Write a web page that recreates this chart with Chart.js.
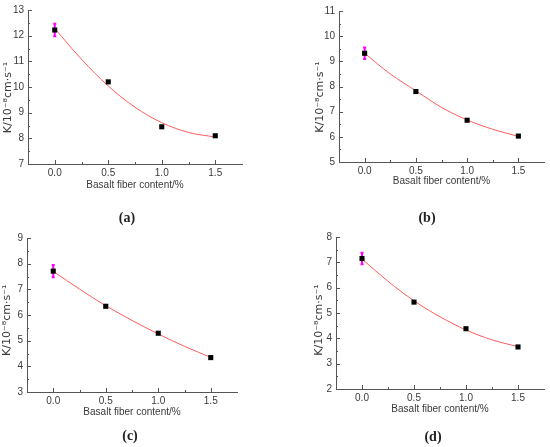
<!DOCTYPE html>
<html>
<head>
<meta charset="utf-8">
<script src="https://cdn.jsdelivr.net/npm/chart.js@4.4.0/dist/chart.umd.min.js"></script>
<style>
    body { margin: 0; background: #fff; width: 550px; height: 447px; position: relative; overflow: hidden; }
    .panel { position: absolute; width: 275px; height: 225px; }
    .cap { position: absolute; font-family: 'Liberation Serif', serif; font-weight: bold; font-size: 14px; color: #222; transform: translate(-50%, -50%); }
</style>
</head>
<body>
<div class="panel" style="left:0;top:0"><canvas id="chart-a" width="275" height="225"></canvas></div>
<div class="panel" style="left:275px;top:0"><canvas id="chart-b" width="275" height="225"></canvas></div>
<div class="panel" style="left:0;top:225px"><canvas id="chart-c" width="275" height="225"></canvas></div>
<div class="panel" style="left:275px;top:225px"><canvas id="chart-d" width="275" height="225"></canvas></div>
<div class="cap" style="left:127px;top:218px">(a)</div>
<div class="cap" style="left:427px;top:218px">(b)</div>
<div class="cap" style="left:130px;top:436px">(c)</div>
<div class="cap" style="left:433px;top:437px">(d)</div>
<script>
// Measured data (basalt fiber content in %)
const fiberContent = [0, 0.5, 1.0, 1.5];
const xTicks = [0, 0.5, 1.0, 1.5];
const fitX = [0, 0.25, 0.5, 0.75, 1.0, 1.25, 1.5];

// (a)
const kA = [12.22, 10.2, 8.45, 8.1];
const errA = [0.28, 0.04, 0.04, 0.04];
const fitA = [12.28, 11.08, 10.04, 9.21, 8.61, 8.23, 8.05];
const yTicksA = [7, 8, 9, 10, 11, 12, 13];
// (b)
const kB = [9.32, 7.8, 6.66, 6.03];
const errB = [0.27, 0.04, 0.04, 0.04];
const fitB = [9.32, 8.5, 7.83, 7.17, 6.67, 6.3, 6.02];
const yTicksB = [5, 6, 7, 8, 9, 10, 11];
// (c)
const kC = [7.71, 6.34, 5.29, 4.34];
const errC = [0.28, 0.04, 0.04, 0.04];
const fitC = [7.70, 7.01, 6.36, 5.79, 5.26, 4.78, 4.35];
const yTicksC = [3, 4, 5, 6, 7, 8, 9];
// (d)
const kD = [7.15, 5.43, 4.38, 3.66];
const errD = [0.27, 0.04, 0.04, 0.04];
const fitD = [7.13, 6.25, 5.48, 4.85, 4.33, 3.94, 3.67];
const yTicksD = [2, 3, 4, 5, 6, 7, 8];

const xTitle = 'Basalt fiber content/%';
const yTitle = 'K/10\u207B\u2078cm\u00B7s\u207B\u00B9';

const axisColor = '#555';
const textColor = '#3a3a3a';

// Ticks on these plots point inside the frame, so draw them by hand
const inwardTicks = {
    id: 'inwardTicks',
    afterDatasetsDraw(chart) {
        const { ctx, chartArea: area, scales: { x, y } } = chart;
        ctx.save();
        ctx.strokeStyle = axisColor;
        ctx.lineWidth = 1;
        ctx.beginPath();
        const xs = x.ticks.map(t => t.value);
        xs.forEach((v, i) => {
            const px = Math.round(x.getPixelForValue(v)) + 0.5;
            ctx.moveTo(px, area.bottom);
            ctx.lineTo(px, area.bottom - 4);
            if (i < xs.length - 1) {
                const mx = Math.round(x.getPixelForValue((v + xs[i + 1]) / 2)) + 0.5;
                ctx.moveTo(mx, area.bottom);
                ctx.lineTo(mx, area.bottom - 2);
            }
        });
        const ys = y.ticks.map(t => t.value);
        ys.forEach((v, i) => {
            const py = Math.round(y.getPixelForValue(v)) + 0.5;
            ctx.moveTo(area.left, py);
            ctx.lineTo(area.left + 4, py);
            if (i < ys.length - 1) {
                const my = Math.round(y.getPixelForValue((v + ys[i + 1]) / 2)) + 0.5;
                ctx.moveTo(area.left, my);
                ctx.lineTo(area.left + 2, my);
            }
        });
        ctx.stroke();
        ctx.restore();
    }
};

// Magenta error bars, drawn under the square markers
const errorBars = {
    id: 'errorBars',
    beforeDatasetsDraw(chart, args, opts) {
        const { ctx, scales: { x, y } } = chart;
        ctx.save();
        ctx.strokeStyle = '#ff00ff';
        ctx.lineWidth = 2;
        opts.x.forEach((xv, i) => {
            const px = x.getPixelForValue(xv);
            const top = y.getPixelForValue(opts.y[i] + opts.err[i]);
            const bot = y.getPixelForValue(opts.y[i] - opts.err[i]);
            ctx.beginPath();
            ctx.moveTo(px, top);
            ctx.lineTo(px, bot);
            ctx.moveTo(px - 1.5, top + 1);
            ctx.lineTo(px + 1.5, top + 1);
            ctx.moveTo(px - 1.5, bot - 1);
            ctx.lineTo(px + 1.5, bot - 1);
            ctx.stroke();
        });
        ctx.restore();
    }
};

function makePanel(canvasId, panel) {
    const lh = 11 * 1.2;
    const xAxisH = panel.xTitleOff + 6;
    new Chart(document.getElementById(canvasId), {
        type: 'scatter',
        data: {
            datasets: [
                {
                    data: fitX.map((x, i) => ({ x: x, y: panel.fit[i] })),
                    showLine: true,
                    borderColor: '#ff5c5c',
                    borderWidth: 1,
                    pointRadius: 0,
                    cubicInterpolationMode: 'monotone',
                    order: 2
                },
                {
                    data: fiberContent.map((x, i) => ({ x: x, y: panel.k[i] })),
                    pointStyle: 'rect',
                    pointRadius: 3.6,
                    backgroundColor: '#000',
                    borderColor: '#000',
                    borderWidth: 0,
                    order: 1
                }
            ]
        },
        options: {
            responsive: false,
            animation: false,
            events: [],
            layout: {
                padding: {
                    left: panel.yTitleX - lh / 2,
                    top: panel.area.top,
                    right: 275 - panel.area.right,
                    bottom: 225 - panel.area.bottom - xAxisH
                }
            },
            plugins: {
                legend: { display: false },
                tooltip: { enabled: false },
                errorBars: { x: fiberContent, y: panel.k, err: panel.err }
            },
            scales: {
                x: {
                    type: 'linear',
                    min: -0.25,
                    max: 1.75,
                    grid: { display: false, drawTicks: false },
                    border: { color: axisColor, width: 1 },
                    afterBuildTicks: s => { s.ticks = xTicks.map(v => ({ value: v })); },
                    afterFit: s => { s.height = xAxisH; },
                    ticks: {
                        padding: 3,
                        color: textColor,
                        font: { family: 'Liberation Sans', size: 10 },
                        callback: v => v.toFixed(1)
                    },
                    title: {
                        display: true,
                        text: xTitle,
                        color: textColor,
                        padding: 0,
                        font: { family: 'Liberation Sans', size: 10 }
                    }
                },
                y: {
                    min: panel.yTicks[0],
                    max: panel.yTicks[panel.yTicks.length - 1],
                    grid: { display: false, drawTicks: false },
                    border: { color: axisColor, width: 1 },
                    afterBuildTicks: s => { s.ticks = panel.yTicks.map(v => ({ value: v })); },
                    afterFit: s => { s.width = panel.area.left - (panel.yTitleX - lh / 2); },
                    ticks: {
                        padding: 4,
                        color: textColor,
                        font: { family: 'Liberation Sans', size: 10 }
                    },
                    title: {
                        display: true,
                        // trailing spaces push the visible text a little below the axis middle
                        text: yTitle + ' '.repeat(panel.yTitleShift),
                        color: textColor,
                        padding: 0,
                        font: { family: 'DejaVu Sans', size: 11 }
                    }
                }
            }
        },
        plugins: [errorBars, inwardTicks]
    });
}

makePanel('chart-a', { k: kA, err: errA, fit: fitA, yTicks: yTicksA,
    area: { left: 28, top: 7, right: 242, bottom: 164 }, yTitleX: 8, xTitleOff: 20.8, yTitleShift: 6 });
makePanel('chart-b', { k: kB, err: errB, fit: fitB, yTicks: yTicksB,
    area: { left: 64, top: 11, right: 269, bottom: 162 }, yTitleX: 45.5, xTitleOff: 19.5, yTitleShift: 6 });
makePanel('chart-c', { k: kC, err: errC, fit: fitC, yTicks: yTicksC,
    area: { left: 27, top: 13, right: 237, bottom: 167 }, yTitleX: 7, xTitleOff: 20.5, yTitleShift: 3 });
makePanel('chart-d', { k: kD, err: errD, fit: fitD, yTicks: yTicksD,
    area: { left: 61, top: 12, right: 269, bottom: 164 }, yTitleX: 43.7, xTitleOff: 20.2, yTitleShift: 4 });
</script>
</body>
</html>
